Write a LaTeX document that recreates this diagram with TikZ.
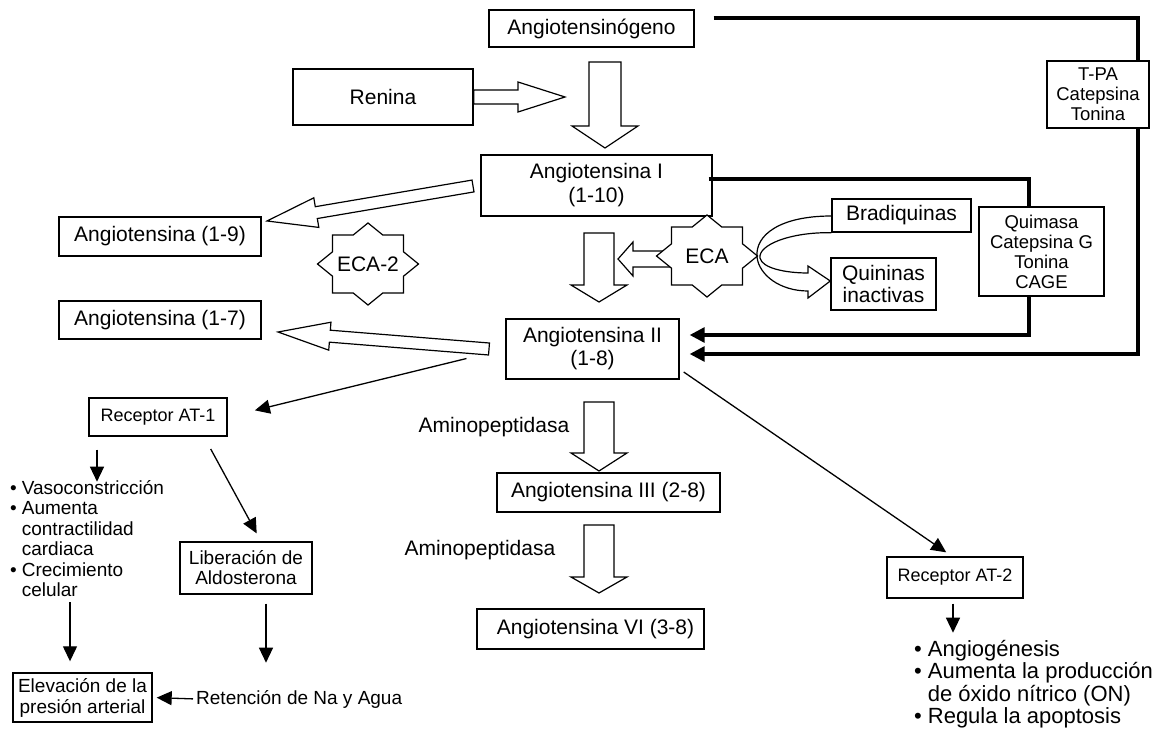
\documentclass[tikz,border=0pt]{standalone}
\usepackage{fontspec}
\setmainfont{Liberation Sans}
\usetikzlibrary{arrows.meta,calc}
\tikzset{
 box/.style={draw, line width=1.4pt, fill=white, inner sep=0pt, align=center, font=\fontsize{21}{24}\selectfont},
 smallbox/.style={font=\fontsize{18.5}{20}\selectfont},
 hollow/.style={draw, line width=1.2pt, fill=white, line join=miter},
 thickarr/.style={line width=3.2pt, -{Triangle[length=15pt,width=15pt]}},
 arr/.style={line width=1.3pt, -{Triangle[length=15pt,width=14pt]}},
 lbl/.style={inner sep=0pt, font=\fontsize{21}{24}\selectfont},
 starline/.style={draw, line width=1.2pt, fill=white, line join=miter},
}
\newcommand\blockarrow[5]{%
 \pgfpointdiff{\pgfpointanchor{#1}{center}}{\pgfpointanchor{#2}{center}}%
 \pgfgetlastxy{\bax}{\bay}%
 \pgfmathsetmacro\baang{atan2(\bay,\bax)}%
 \pgfmathsetmacro\balen{veclen(\bax,\bay)}%
 \begin{scope}[shift={(#1)}, rotate=\baang]
 \path[hollow] (0,#3) -- ({\balen-#5},#3) -- ({\balen-#5},#4) -- (\balen,0) -- ({\balen-#5},-#4) -- ({\balen-#5},-#3) -- (0,-#3) -- cycle;
 \end{scope}}
\newcommand\octstar[1]{%
 \begin{scope}[shift={(#1)}]
 \path[starline] (0,-41) -- (14.8,-29) -- (35.5,-29) -- (35.5,-12.2) -- (50.5,0) -- (35.5,12.2) -- (35.5,29) -- (14.8,29) -- (0,41) -- (-14.8,29) -- (-35.5,29) -- (-35.5,12.2) -- (-50.5,0) -- (-35.5,-12.2) -- (-35.5,-29) -- (-14.8,-29) -- cycle;
 \end{scope}}
\begin{document}
\begin{tikzpicture}[x=1pt,y=-1pt]
\useasboundingbox (0,0) rectangle (1156,730);

% main chain boxes
\node[box, minimum width=205pt, minimum height=37pt] (ang0) at (591.5,28.5) {Angiotensinógeno};
\node[box, minimum width=180pt, minimum height=56pt] (renina) at (383,97) {Renina};
\node[box, minimum width=231pt, minimum height=61pt] (ang1) at (596.5,185.5) {Angiotensina I\\(1-10)};
\node[box, minimum width=173pt, minimum height=60pt, font=\fontsize{21}{23}\selectfont] (ang2) at (592.5,349) {Angiotensina II\\(1-8)};

% thick feedback lines
\coordinate (c1a) at (1138,18);
\coordinate (c1b) at (1138,354);
\coordinate (c2a) at (1029,179);
\coordinate (c2b) at (1029,335);
\draw[thickarr] ([xshift=19pt,yshift=10.5pt]ang0.east) -- (c1a) -- (c1b) -- ([xshift=10pt]c1b -| ang2.east);
\draw[thickarr] ([xshift=-4pt,yshift=6.5pt]ang1.east) -- (c2a) -- (c2b) -- ([xshift=10pt]c2b -| ang2.east);

\node[box, smallbox, minimum width=125pt, minimum height=89pt] (quim) at (1041.5,251.5) {Quimasa\\Catepsina G\\Tonina\\CAGE};
\node[box, smallbox, minimum width=102pt, minimum height=67pt] (tpa) at (1098,94.5) {T-PA\\Catepsina\\Tonina};

% other boxes
\node[box, minimum width=202pt, minimum height=39pt] (ang19) at (160,236.5) {Angiotensina (1-9)};
\node[box, minimum width=202pt, minimum height=38pt] (ang17) at (160,320) {Angiotensina (1-7)};
\node[box, minimum width=139pt, minimum height=33pt] (brad) at (901.5,215.5) {Bradiquinas};
\node[box, minimum width=105pt, minimum height=52pt, font=\fontsize{21}{22}\selectfont] (quin) at (883.5,284) {Quininas\\inactivas};
\node[box, minimum width=223pt, minimum height=39pt] (ang3) at (608.5,492.5) {Angiotensina III (2-8)};
\node[box, minimum width=227pt, minimum height=40pt] (ang6) at (590.5,629) {\hspace{10pt}Angiotensina VI (3-8)};
\node[box, minimum width=138pt, minimum height=38pt, font=\fontsize{18}{20}\selectfont] (at1) at (158,417) {Receptor AT-1};
\node[box, minimum width=136pt, minimum height=41pt, font=\fontsize{18}{20}\selectfont] (at2) at (955,577.5) {Receptor AT-2};
\node[box, minimum width=132pt, minimum height=52pt, font=\fontsize{19}{20}\selectfont] (lib) at (246,568) {Liberación de\\Aldosterona};
\node[box, minimum width=139pt, minimum height=49pt, font=\fontsize{19}{21}\selectfont] (elev) at (82.5,697.5) {Elevación de la\\presión arterial};

% block arrows
\coordinate (rens) at (renina.east);
\coordinate (rtip) at (565,97);
\blockarrow{rens}{rtip}{7}{15}{47}
\coordinate (d1a) at (605,62);
\coordinate (d1b) at (605,148);
\blockarrow{d1a}{d1b}{16}{33}{22}
\coordinate (a19s) at (473,186);
\coordinate (a19t) at (267,221);
\blockarrow{a19s}{a19t}{6}{15}{50}
\coordinate (d2a) at (599,233);
\coordinate (d2b) at (599,302);
\blockarrow{d2a}{d2b}{15}{28}{17}
\coordinate (ecaC) at (707,256);
\coordinate (ecas) at (690,259);
\coordinate (ecat) at (618,259);
\blockarrow{ecas}{ecat}{8}{17}{15}
\coordinate (a17s) at (489,349);
\coordinate (a17t) at (278,332);
\blockarrow{a17s}{a17t}{6}{14}{52}
\coordinate (d3a) at (599,402);
\coordinate (d3b) at (599,471);
\blockarrow{d3a}{d3b}{15}{28}{18}
\coordinate (d4a) at (599,525);
\coordinate (d4b) at (599,593);
\blockarrow{d4a}{d4b}{15}{28}{16}

% stars
\coordinate (eca2C) at (368,264);
\octstar{eca2C}
\node[lbl] (eca2) at (eca2C) {ECA-2};
\octstar{ecaC}
\node[lbl] (eca) at (ecaC) {ECA};

% curved ribbon arrow Bradiquinas -> Quininas
\coordinate (qtip) at (quin.west |- 0,281);
\path[hollow, fill=none] ([yshift=-0.5pt]brad.west) .. controls (780,216) and (755,235) .. (757,257) .. controls (759,275) and (780,291) .. (808,291) -- (808,298) -- (qtip) -- (808,266) -- (808,273) .. controls (785,273) and (762,268) .. (760,258) .. controls (758,245) and (790,232) .. (brad.south west);

% labels
\node[lbl] (amino1) at (494,427) {Aminopeptidasa};
\node[lbl] (amino2) at (480,550) {Aminopeptidasa};
\node[lbl, font=\fontsize{19}{21}\selectfont, anchor=west] (reten) at (196,699) {Retención de Na y Agua};
\node[lbl, font=\fontsize{19}{20.4}\selectfont, anchor=north west] (list1) at (10,480) {\begin{tabular}{@{}l@{\hspace{5pt}}l@{}}•&Vasoconstricción\\•&Aumenta\\&contractilidad\\&cardiaca\\•&Crecimiento\\&celular\end{tabular}};
\node[lbl, font=\fontsize{22}{20.6}\selectfont, anchor=north west] (list2) at (914,640) {\begin{tabular}{@{}l@{\hspace{6pt}}l@{}}•&Angiogénesis\\•&Aumenta la producción\\&de óxido nítrico (ON)\\•&Regula la apoptosis\end{tabular}};

% thin arrows
\draw[arr, shorten <=40pt, shorten >=28pt] (ang2.west) -- (at1.east);
\draw[arr, shorten <=14pt, shorten >=9pt] ([xshift=46pt]at1.south) -- ([xshift=15pt]lib.north);
\draw[arr, shorten >=7pt] ([xshift=4pt,yshift=-23pt]ang2.east) -- ([xshift=-3pt]at2.north);
\draw[arr] ([xshift=-61pt,yshift=-13pt]at1.south) -- ([xshift=-61pt,yshift=-45pt]at1.south);
\draw[arr] ([xshift=-12.5pt,yshift=70pt]elev.north) -- ([xshift=-12.5pt,yshift=11pt]elev.north);
\draw[arr] ([xshift=20pt,yshift=-9pt]lib.south) -- ([xshift=20pt,yshift=-68pt]lib.south);
\draw[arr, shorten <=3pt, shorten >=4pt] (reten.west) -- (elev.east);
\draw[arr] ([xshift=-2pt,yshift=-5pt]at2.south) -- ([xshift=-2pt,yshift=-34pt]at2.south);
\end{tikzpicture}
\end{document}
